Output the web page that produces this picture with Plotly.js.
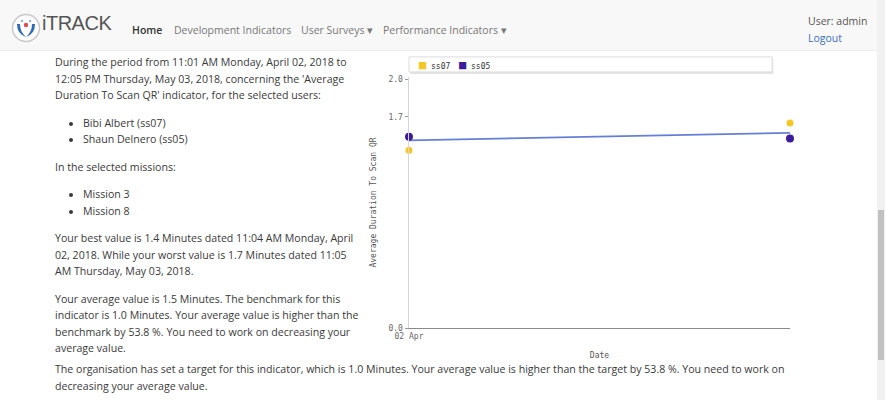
<!DOCTYPE html>
<html>
<head>
<meta charset="utf-8">
<script src="https://cdn.plot.ly/plotly-3.0.1.min.js"></script>
<style>
  html, body { margin:0; padding:0; width:885px; height:400px; overflow:hidden; background:#fff; font-family:"Open Sans", "Noto Sans", sans-serif; color:#3a3a3a; }
  #nav { position:absolute; left:0; top:0; width:877px; height:50px; background:#f8f8f8; border-bottom:1px solid #eee; }
  #brand { position:absolute; left:42px; top:12px; font-size:20px; color:#555; letter-spacing:-0.5px; font-family:"Liberation Sans", Arial, sans-serif; }
  .nl { position:absolute; top:23px; font-size:10.5px; color:#777; white-space:nowrap; }
  #user { position:absolute; left:808px; top:14px; font-size:10.5px; color:#555; }
  #logout { position:absolute; left:808px; top:31px; font-size:10.5px; color:#3a6fc4; }
  #text { position:absolute; left:55px; top:54px; width:320px; font-size:10.6px; line-height:16.5px; white-space:nowrap; }
  #text p { margin:0 0 11px 0; }
  #text ul { margin:0 0 11px 0; padding-left:28px; }
  #wide { position:absolute; left:55px; top:361px; font-size:10.6px; line-height:16.5px; white-space:nowrap; }
  #chart { position:absolute; left:360px; top:50px; width:450px; height:320px; }
  #sbar { position:absolute; left:877px; top:0; width:8px; height:400px; background:#f1f1f1; }
  #thumb { position:absolute; left:878px; top:210px; width:6px; height:150px; background:#c1c1c1; }
</style>
</head>
<body>
<div id="nav">
  <svg style="position:absolute;left:11px;top:13px" width="30" height="30" viewBox="0 0 30 30">
    <circle cx="15" cy="15" r="13.5" fill="#fff" stroke="#c8c8c8" stroke-width="1.5"/>
    <path d="M6 11 Q6 21 15 24 Q9 19 9 11 Z" fill="#2f6cb8"/>
    <path d="M24 11 Q24 21 15 24 Q21 19 21 11 Z" fill="#2f6cb8"/>
    <circle cx="15" cy="12" r="2.2" fill="#e04a4a"/>
    <circle cx="11" cy="8" r="1.2" fill="#8fb3de"/>
    <circle cx="19" cy="8" r="1.2" fill="#8fb3de"/>
  </svg>
  <div id="brand">iTRACK</div>
  <div class="nl" style="left:132px;color:#333;font-weight:600">Home</div>
  <div class="nl" style="left:174px">Development Indicators</div>
  <div class="nl" style="left:301px">User Surveys ▾</div>
  <div class="nl" style="left:383px">Performance Indicators ▾</div>
  <div id="user">User: admin</div>
  <div id="logout">Logout</div>
</div>
<div id="text">
  <p>During the period from 11:01 AM Monday, April 02, 2018 to<br>12:05 PM Thursday, May 03, 2018, concerning the 'Average<br>Duration To Scan QR' indicator, for the selected users:</p>
  <ul><li>Bibi Albert (ss07)</li><li>Shaun Delnero (ss05)</li></ul>
  <p>In the selected missions:</p>
  <ul><li>Mission 3</li><li>Mission 8</li></ul>
  <p>Your best value is 1.4 Minutes dated 11:04 AM Monday, April<br>02, 2018. While your worst value is 1.7 Minutes dated 11:05<br>AM Thursday, May 03, 2018.</p>
  <p>Your average value is 1.5 Minutes. The benchmark for this<br>indicator is 1.0 Minutes. Your average value is higher than the<br>benchmark by 53.8 %. You need to work on decreasing your<br>average value.</p>
</div>
<div id="wide">The organisation has set a target for this indicator, which is 1.0 Minutes. Your average value is higher than the target by 53.8 %. You need to work on<br>decreasing your average value.</div>
<div id="chart"></div>
<div id="sbar"></div>
<div id="thumb"></div>
<script>
const dates = ['2018-04-02 11:04', '2018-05-03 11:05'];
const ss07 = [1.43, 1.65];
const ss05 = [1.54, 1.525];
const avgLine = [1.51, 1.57];
const seriesNames = ['ss07', 'ss05'];
const yTicks = [0, 1.7, 2.0];
const xTickLabels = ['02 Apr'];

const mono = 'DejaVu Sans Mono, monospace';
const colors = ['#f6c624', '#3d1c9c'];

const traces = [
  {x: dates, y: avgLine, mode: 'lines', line: {color: '#6480d6', width: 1.8}, showlegend: false, hoverinfo: 'skip'},
  {x: dates, y: ss07, mode: 'markers', name: seriesNames[0], marker: {color: colors[0], size: 7}, cliponaxis: false},
  {x: dates, y: ss05, mode: 'markers', name: seriesNames[1], marker: {color: colors[1], size: 8}, cliponaxis: false}
];

// legend drawn as annotations inside a framed box (paper coordinates)
const legendX = [0.022, 0.125];
const legendAnn = [];
seriesNames.forEach((n, i) => {
  legendAnn.push({xref: 'paper', yref: 'paper', x: legendX[i], y: 1.047, xanchor: 'left', yanchor: 'middle', showarrow: false,
    text: '<span style="color:' + colors[i] + ';font-size:12px">■</span><span style="font-size:8px"> ' + n + '</span>',
    font: {family: mono, size: 8, color: '#333'}});
});

const layout = {
  width: 450, height: 320,
  margin: {l: 49, r: 20, t: 27, b: 42},
  paper_bgcolor: 'rgba(0,0,0,0)', plot_bgcolor: 'rgba(0,0,0,0)',
  font: {family: mono, size: 8, color: '#666'},
  showlegend: false,
  xaxis: {
    type: 'date', range: dates,
    tickvals: [dates[0]], ticktext: xTickLabels,
    showgrid: false, zeroline: false, showline: true, linecolor: '#8a8a8a', linewidth: 1.2,
    ticks: '', tickfont: {family: mono, size: 8, color: '#666'},
    title: {text: 'Date', font: {family: mono, size: 8, color: '#555'}, standoff: 12}
  },
  yaxis: {
    range: [0, 2.02], tickvals: yTicks, tickformat: '.1f',
    showgrid: false, zeroline: false, showline: true, linecolor: '#d6d6d6', linewidth: 1.5,
    ticks: 'outside', ticklen: 3, tickcolor: '#999',
    tickfont: {family: mono, size: 8, color: '#666'},
    title: {text: 'Average Duration To Scan QR', font: {family: mono, size: 8, color: '#555'}, standoff: 10}
  },
  annotations: legendAnn,
  shapes: [
    {type: 'rect', xref: 'paper', yref: 'paper', x0: 0.003, x1: 0.956, y0: 1.012, y1: 1.075, line: {width: 0}, fillcolor: '#e4e4e4', layer: 'below'},
    {type: 'rect', xref: 'paper', yref: 'paper', x0: 0, x1: 0.953, y0: 1.02, y1: 1.08, line: {color: '#dcdcdc', width: 1}, fillcolor: '#fff', layer: 'below'}
  ]
};

Plotly.newPlot('chart', traces, layout, {displayModeBar: false, staticPlot: true});
</script>
</body>
</html>
